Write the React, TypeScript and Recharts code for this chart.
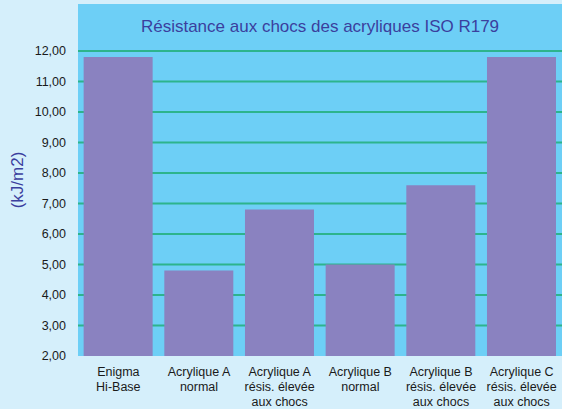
import React from 'react';
import { BarChart, Bar, XAxis, YAxis, CartesianGrid } from 'recharts';

const categories = [
  'Enigma\nHi-Base',
  'Acrylique A\nnormal',
  'Acrylique A\nrésis. élevée\naux chocs',
  'Acrylique B\nnormal',
  'Acrylique B\nrésis. élevée\naux chocs',
  'Acrylique C\nrésis. élevée\naux chocs',
];
const impact = [11.8, 4.8, 6.8, 5.0, 7.6, 11.8];
const yTicks = [2, 3, 4, 5, 6, 7, 8, 9, 10, 11, 12];
const gridTicks = [3, 4, 5, 6, 7, 8, 9, 10, 11, 12];
const yDomain = [2, 13.54];

const data = categories.map((name, i) => ({ name, value: impact[i] }));

const FONT = '"Liberation Sans", Arial, Helvetica, sans-serif';

const fmt = (v: number) => v.toFixed(2).replace('.', ',');

const CategoryTick = (props: any) => {
  const { x, y, payload } = props;
  const lines = String(payload.value).split('\n');
  return (
    <text x={x} y={y} textAnchor="middle" fill="#1a1a1a" fontSize={12.5} fontFamily={FONT}>
      {lines.map((l, i) => (
        <tspan key={i} x={x} dy={i === 0 ? 12 : 15.2}>
          {l}
        </tspan>
      ))}
    </text>
  );
};

const UnitLabel = (props: any) => {
  const vb = props.viewBox || { x: 0, y: 0, width: 0, height: 0 };
  const cx = vb.x + 17;
  const cy = vb.y + vb.height / 2;
  return (
    <text
      x={cx}
      y={cy}
      transform={`rotate(-90 ${cx} ${cy})`}
      textAnchor="middle"
      dominantBaseline="central"
      fill="#3b3f9e"
      fontSize={17}
      fontFamily={FONT}
    >
      (kJ/m2)
    </text>
  );
};

// grid only on the inner ticks, no line on the panel edges
const gridRows = (args: any) => {
  const scale = args?.yAxis?.scale;
  const off = args?.offset;
  return gridTicks.map((t) => {
    if (typeof scale === 'function') return scale(t);
    if (scale && typeof scale.map === 'function') return scale.map(t);
    // plain linear fallback over the plot box
    return off.top + off.height * (1 - (t - yDomain[0]) / (yDomain[1] - yDomain[0]));
  });
};

export default function App() {
  return (
    <div style={{ position: 'absolute', left: 0, top: 0, width: 562, height: 409, background: '#d5effb' }}>
      <BarChart
        width={562}
        height={409}
        data={data}
        margin={{ top: 4, right: 0, bottom: 0, left: 0 }}
        barCategoryGap="7%"
      >
        <CartesianGrid
          vertical={false}
          stroke="#2db48c"
          strokeWidth={2}
          fill="#6dcff6"
          fillOpacity={1}
          horizontalCoordinatesGenerator={gridRows}
        />
        <XAxis
          dataKey="name"
          axisLine={false}
          tickLine={false}
          height={53}
          interval={0}
          tick={<CategoryTick />}
        />
        <YAxis
          type="number"
          domain={yDomain}
          ticks={yTicks}
          allowDataOverflow
          width={78}
          axisLine={false}
          tickLine={false}
          tickMargin={6}
          tickFormatter={fmt}
          tick={{ fill: '#1a1a1a', fontSize: 12.5, fontFamily: FONT }}
          label={<UnitLabel />}
        />
        <Bar dataKey="value" fill="#8a82c0" isAnimationActive={false} />
      </BarChart>
      <div
        style={{
          position: 'absolute',
          left: 78,
          top: 17,
          width: 484,
          textAlign: 'center',
          fontFamily: FONT,
          fontSize: 17,
          lineHeight: '20px',
          color: '#3b3f9e',
        }}
      >
        Résistance aux chocs des acryliques ISO R179
      </div>
    </div>
  );
}
